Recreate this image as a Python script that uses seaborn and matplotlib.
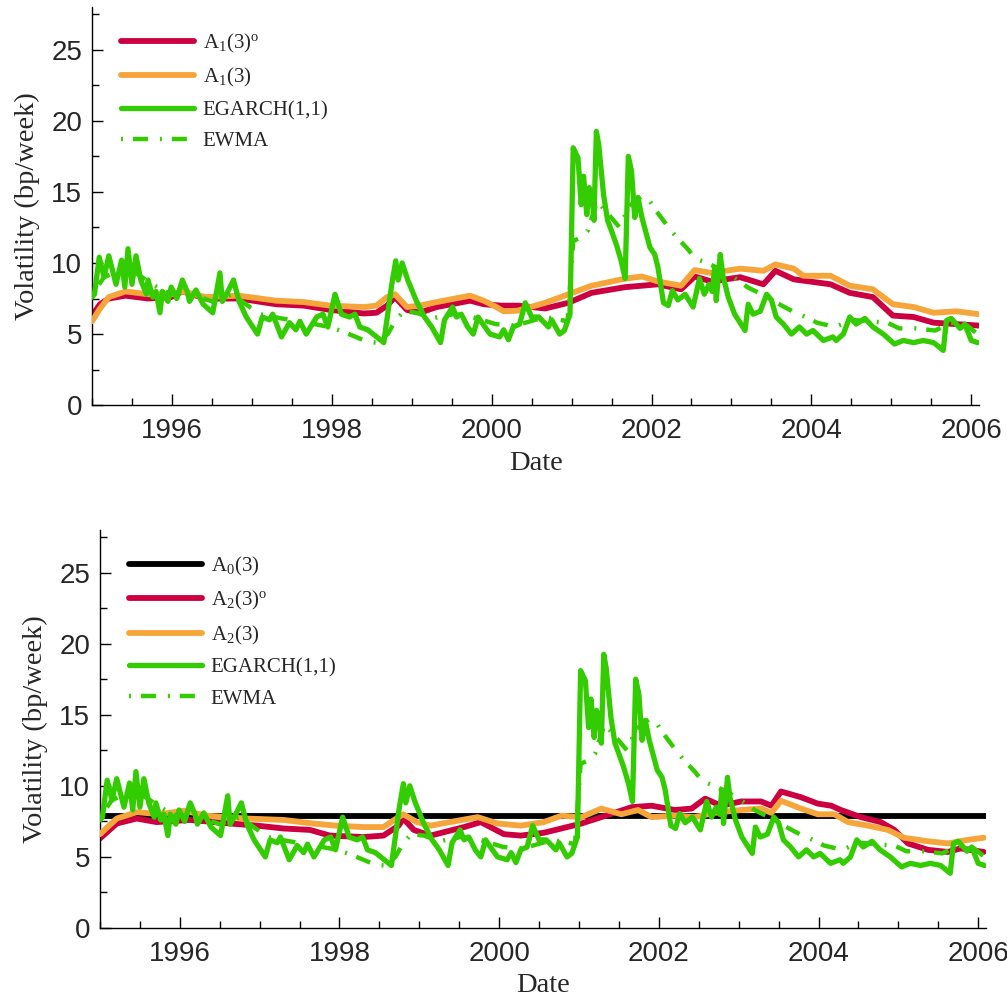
# volatility comparison: affine models vs EGARCH / EWMA
# two panels, weekly vol in bp/week, 1995-2006

import matplotlib
matplotlib.use("Agg")
import matplotlib.pyplot as plt
from matplotlib.ticker import MultipleLocator, FormatStrFormatter
import seaborn as sns

# %% data (decimal year, bp/week)
egarch_t = [1995.00, 1995.03, 1995.09, 1995.15, 1995.21, 1995.30, 1995.37, 1995.41, 1995.45, 1995.50,
            1995.55, 1995.61, 1995.68, 1995.70, 1995.76, 1995.80, 1995.85, 1995.88, 1995.95, 1995.99,
            1996.06, 1996.13, 1996.19, 1996.22, 1996.30, 1996.39, 1996.51, 1996.60, 1996.63, 1996.70,
            1996.77, 1996.84, 1996.93, 1997.07, 1997.13, 1997.22, 1997.26, 1997.37, 1997.47, 1997.55,
            1997.60, 1997.68, 1997.81, 1997.89, 1997.95, 1998.04, 1998.12, 1998.22, 1998.29, 1998.35,
            1998.45, 1998.56, 1998.65, 1998.75, 1998.80, 1998.83, 1998.88, 1998.95, 1999.06, 1999.16,
            1999.25, 1999.36, 1999.41, 1999.51, 1999.56, 1999.62, 1999.70, 1999.77, 1999.83, 1999.89,
            1999.98, 2000.10, 2000.15, 2000.21, 2000.27, 2000.35, 2000.42, 2000.50, 2000.59, 2000.71,
            2000.75, 2000.85, 2000.91, 2000.98, 2001.02, 2001.08, 2001.12, 2001.15, 2001.19, 2001.22,
            2001.26, 2001.28, 2001.31, 2001.34, 2001.40, 2001.45, 2001.50, 2001.56, 2001.62, 2001.67,
            2001.71, 2001.75, 2001.79, 2001.83, 2001.88, 2001.98, 2002.04, 2002.08, 2002.15, 2002.21,
            2002.26, 2002.33, 2002.42, 2002.52, 2002.60, 2002.66, 2002.72, 2002.76, 2002.79, 2002.81,
            2002.86, 2002.89, 2002.96, 2003.04, 2003.17, 2003.21, 2003.27, 2003.36, 2003.44, 2003.50,
            2003.56, 2003.65, 2003.75, 2003.85, 2003.94, 2004.02, 2004.15, 2004.27, 2004.31, 2004.40,
            2004.48, 2004.56, 2004.67, 2004.77, 2004.90, 2005.04, 2005.15, 2005.28, 2005.40, 2005.53,
            2005.65, 2005.69, 2005.75, 2005.86, 2005.92, 2006.00, 2006.08]
egarch_v = [7.6, 7.8, 10.4, 9.0, 10.5, 8.5, 10.2, 8.3, 11.0, 8.5,
            10.5, 8.8, 7.8, 8.8, 7.6, 8.0, 6.5, 8.0, 7.3, 8.3,
            7.5, 8.8, 8.0, 7.3, 8.1, 7.1, 6.5, 9.3, 7.3, 8.0,
            8.8, 7.3, 6.2, 5.0, 6.2, 6.0, 6.4, 4.8, 5.8, 5.3,
            5.9, 5.0, 6.2, 6.4, 5.5, 7.8, 6.4, 6.2, 6.4, 5.5,
            5.3, 4.8, 4.4, 8.5, 10.15, 8.8, 10.0, 8.8, 7.3, 6.2,
            5.5, 4.4, 6.0, 6.9, 6.2, 6.4, 5.5, 5.0, 6.2, 5.7,
            5.0, 4.8, 5.3, 4.6, 5.5, 5.7, 7.2, 6.2, 6.2, 5.5,
            6.0, 5.0, 5.25, 6.4, 18.1, 17.4, 14.1, 16.1, 13.4, 15.3,
            14.35, 13.0, 19.25, 18.3, 14.8, 13.0, 12.25, 11.3, 10.15, 8.9,
            17.5, 16.45, 13.2, 14.6, 13.2, 11.1, 10.6, 9.7, 7.2, 7.0,
            8.05, 7.4, 7.8, 6.9, 8.9, 7.8, 8.5, 8.0, 9.7, 7.35,
            10.6, 9.2, 7.6, 6.4, 5.25, 7.1, 6.4, 6.6, 7.8, 7.4,
            6.2, 5.7, 5.0, 5.5, 5.0, 5.25, 4.55, 4.8, 4.55, 5.0,
            6.2, 5.7, 6.1, 5.5, 5.0, 4.3, 4.55, 4.4, 4.55, 4.4,
            3.85, 5.95, 6.1, 5.4, 5.7, 4.55, 4.4]

ewma_t = [1995.00, 1995.15, 1995.35, 1995.55, 1995.75, 1995.95, 1996.20, 1996.50, 1996.75, 1996.95,
          1997.10, 1997.37, 1997.60, 1997.97, 1998.13, 1998.30, 1998.45, 1998.56, 1998.70, 1998.80,
          1998.90, 1999.06, 1999.25, 1999.52, 1999.70, 2000.05, 2000.30, 2000.67, 2000.95, 2001.02,
          2001.12, 2001.20, 2001.32, 2001.45, 2001.60, 2001.72, 2001.88, 2001.96, 2002.06, 2002.20,
          2002.30, 2002.45, 2002.55, 2002.65, 2002.85, 2003.05, 2003.20, 2003.27, 2003.45, 2003.63,
          2003.80, 2003.93, 2004.07, 2004.30, 2004.50, 2004.70, 2004.95, 2005.10, 2005.30, 2005.55,
          2005.75, 2005.95, 2006.08]
ewma_v = [7.8, 9.0, 9.5, 9.3, 8.5, 7.9, 7.9, 7.3, 7.8, 7.0,
          6.4, 6.1, 5.9, 5.5, 5.2, 4.8, 4.45, 4.4, 5.0, 6.0,
          6.6, 6.5, 6.1, 6.4, 6.3, 5.7, 5.6, 6.2, 5.9, 11.55,
          11.8, 12.25, 14.35, 13.5, 12.5, 14.0, 14.7, 14.5, 13.65, 12.6,
          11.9, 11.0, 10.3, 10.1, 9.6, 8.9, 8.3, 8.1, 7.6, 7.0,
          6.5, 6.2, 5.8, 5.5, 6.0, 5.9, 5.8, 5.4, 5.4, 5.25,
          5.8, 5.6, 5.0]

a1o_t = [1995.00, 1995.10, 1995.21, 1995.42, 1995.70, 1995.99, 1996.13, 1996.42, 1996.84, 1997.30,
         1997.65, 1997.98, 1998.40, 1998.56, 1998.69, 1998.79, 1998.94, 1999.10, 1999.31, 1999.73,
         1999.90, 2000.12, 2000.33, 2000.67, 2000.96, 2001.25, 2001.67, 2001.88, 2002.08, 2002.37,
         2002.54, 2002.75, 2003.11, 2003.40, 2003.55, 2003.78, 2004.24, 2004.48, 2004.77, 2005.02,
         2005.28, 2005.53, 2005.82, 2006.09]
a1o_v = [6.3, 7.1, 7.5, 7.7, 7.5, 7.6, 8.0, 7.5, 7.5, 7.1,
         7.0, 6.7, 6.45, 6.5, 7.0, 7.6, 6.7, 6.5, 6.9, 7.35,
         7.1, 7.0, 7.0, 6.8, 7.2, 7.9, 8.3, 8.4, 8.5, 8.15,
         9.05, 8.7, 9.0, 8.5, 9.45, 8.85, 8.5, 7.9, 7.6, 6.3,
         6.2, 5.8, 5.7, 5.6]

a1_t = [1995.00, 1995.10, 1995.21, 1995.42, 1995.70, 1995.99, 1996.13, 1996.42, 1996.84, 1997.30,
        1997.65, 1997.98, 1998.40, 1998.56, 1998.69, 1998.79, 1998.94, 1999.10, 1999.31, 1999.73,
        1999.90, 2000.06, 2000.15, 2000.33, 2000.67, 2000.96, 2001.25, 2001.67, 2001.88, 2002.08,
        2002.37, 2002.54, 2002.75, 2003.11, 2003.40, 2003.55, 2003.78, 2003.90, 2004.24, 2004.48,
        2004.77, 2005.02, 2005.28, 2005.53, 2005.82, 2006.09]
a1_v = [5.9, 6.8, 7.6, 8.0, 7.8, 7.8, 8.0, 7.6, 7.7, 7.35,
        7.25, 7.0, 6.9, 7.0, 7.6, 7.8, 6.9, 7.0, 7.25, 7.7,
        7.35, 6.9, 6.6, 6.65, 7.2, 7.8, 8.4, 8.9, 9.05, 8.7,
        8.4, 9.5, 9.3, 9.6, 9.45, 9.9, 9.6, 9.1, 9.1, 8.4,
        8.15, 7.1, 6.9, 6.5, 6.6, 6.4]

a2o_t = [1995.00, 1995.21, 1995.46, 1995.71, 1996.13, 1996.63, 1996.97, 1997.30, 1997.63, 1997.88,
         1998.30, 1998.55, 1998.74, 1998.80, 1998.93, 1999.14, 1999.56, 1999.77, 2000.06, 2000.27,
         2000.56, 2000.78, 2001.03, 2001.28, 2001.66, 2001.91, 2002.20, 2002.41, 2002.58, 2002.78,
         2003.03, 2003.28, 2003.41, 2003.53, 2003.78, 2003.99, 2004.16, 2004.28, 2004.53, 2004.78,
         2004.95, 2005.12, 2005.37, 2005.62, 2005.78, 2006.07]
a2o_v = [6.3, 7.35, 7.7, 7.45, 7.6, 7.35, 7.2, 7.0, 6.9, 6.5,
         6.4, 6.5, 7.2, 7.7, 6.9, 6.5, 7.1, 7.45, 6.6, 6.5,
         6.7, 7.0, 7.35, 7.8, 8.5, 8.6, 8.3, 8.4, 9.1, 8.6,
         8.9, 8.9, 8.6, 9.6, 9.2, 8.75, 8.6, 8.3, 7.8, 7.45,
         6.9, 5.95, 5.5, 5.35, 5.6, 5.35]

a2_t = [1995.00, 1995.21, 1995.46, 1995.75, 1996.05, 1996.34, 1996.84, 1997.30, 1997.67, 1997.96,
        1998.30, 1998.55, 1998.74, 1998.80, 1998.97, 1999.14, 1999.73, 1999.98, 2000.27, 2000.56,
        2000.78, 2001.03, 2001.28, 2001.53, 2001.74, 2001.91, 2002.20, 2002.45, 2002.70, 2003.03,
        2003.28, 2003.41, 2003.53, 2003.78, 2003.99, 2004.20, 2004.37, 2004.62, 2004.87, 2005.07,
        2005.37, 2005.62, 2005.87, 2006.07]
a2_v = [6.6, 7.7, 8.15, 8.0, 8.25, 7.9, 7.7, 7.6, 7.35, 7.2,
        7.1, 7.1, 7.8, 8.0, 7.45, 7.2, 7.8, 7.35, 7.2, 7.45,
        7.9, 7.8, 8.4, 8.0, 8.3, 7.8, 7.9, 7.8, 8.1, 8.3,
        8.4, 8.1, 8.95, 8.4, 8.0, 8.0, 7.45, 7.2, 6.9, 6.35,
        6.1, 5.95, 6.2, 6.35]

a0_t = [1995.0, 2006.1]
a0_v = [7.85, 7.85]

# %% styling
sns.set_style("ticks")
plt.rcParams["font.family"] = ["Liberation Sans", "DejaVu Sans"]
plt.rcParams["mathtext.fontset"] = "custom"
plt.rcParams["mathtext.rm"] = "Liberation Serif"
plt.rcParams["mathtext.it"] = "Liberation Serif:italic"
plt.rcParams["lines.scale_dashes"] = False

RED = "#CC0040"
ORANGE = "#F6A53A"
GREEN = "#33CC00"
EWMA_DASH = (0, (1.4, 7.2, 10.8, 8.6))   # dot, gap, dash, gap
serif = {"family": "Liberation Serif"}


def draw(ax, series):
    for t, v, col, lw, ls, lab, z in series:
        sns.lineplot(x=t, y=v, ax=ax, color=col, lw=lw, linestyle=ls,
                     label=lab, zorder=z, estimator=None)
    ax.set_xlim(1995.0, 2006.1)
    ax.set_ylim(0, 28)
    ax.xaxis.set_major_locator(MultipleLocator(2))
    ax.xaxis.set_minor_locator(MultipleLocator(0.5))
    ax.xaxis.set_major_formatter(FormatStrFormatter("%d"))
    ax.yaxis.set_major_locator(MultipleLocator(5))
    ax.yaxis.set_minor_locator(MultipleLocator(2.5))
    ax.tick_params(which="both", direction="in", width=1, labelsize=20, color="black")
    ax.tick_params(which="major", length=8)
    ax.tick_params(which="minor", length=5)
    ax.tick_params(axis="x", pad=9)
    ax.tick_params(axis="y", pad=7)
    for s in ["top", "right"]:
        ax.spines[s].set_visible(False)
    for s in ["left", "bottom"]:
        ax.spines[s].set_linewidth(1)
        ax.spines[s].set_color("black")
    ax.set_xlabel("Date", fontdict=serif, fontsize=20.5, labelpad=5)
    ax.set_ylabel("Volatility (bp/week)", fontdict=serif, fontsize=20.5, labelpad=8)
    ax.legend(loc="upper left", bbox_to_anchor=(0.012, 0.985), frameon=False,
              prop={"family": "Liberation Serif", "size": 15},
              handlelength=3.5, labelspacing=0.55, handletextpad=0.4)


fig = plt.figure(figsize=(10.07, 9.98), dpi=100)
ax1 = fig.add_axes([0.0914, 0.594, 0.881, 0.399])
ax2 = fig.add_axes([0.0993, 0.0701, 0.880, 0.399])

draw(ax1, [
    (a1o_t, a1o_v, RED, 4.2, "-", r"A$_{\mathrm{1}}$(3)$^{\mathrm{o}}$", 2),
    (a1_t, a1_v, ORANGE, 4.2, "-", r"A$_{\mathrm{1}}$(3)", 3),
    (egarch_t, egarch_v, GREEN, 3.8, "-", "EGARCH(1,1)", 5),
    (ewma_t, ewma_v, GREEN, 3.2, EWMA_DASH, "EWMA", 4),
])

draw(ax2, [
    (a0_t, a0_v, "black", 4.2, "-", r"A$_{\mathrm{0}}$(3)", 1),
    (a2o_t, a2o_v, RED, 4.2, "-", r"A$_{\mathrm{2}}$(3)$^{\mathrm{o}}$", 2),
    (a2_t, a2_v, ORANGE, 4.2, "-", r"A$_{\mathrm{2}}$(3)", 3),
    (egarch_t, egarch_v, GREEN, 3.8, "-", "EGARCH(1,1)", 5),
    (ewma_t, ewma_v, GREEN, 3.2, EWMA_DASH, "EWMA", 4),
])

fig.savefig("out.png", dpi=100)
